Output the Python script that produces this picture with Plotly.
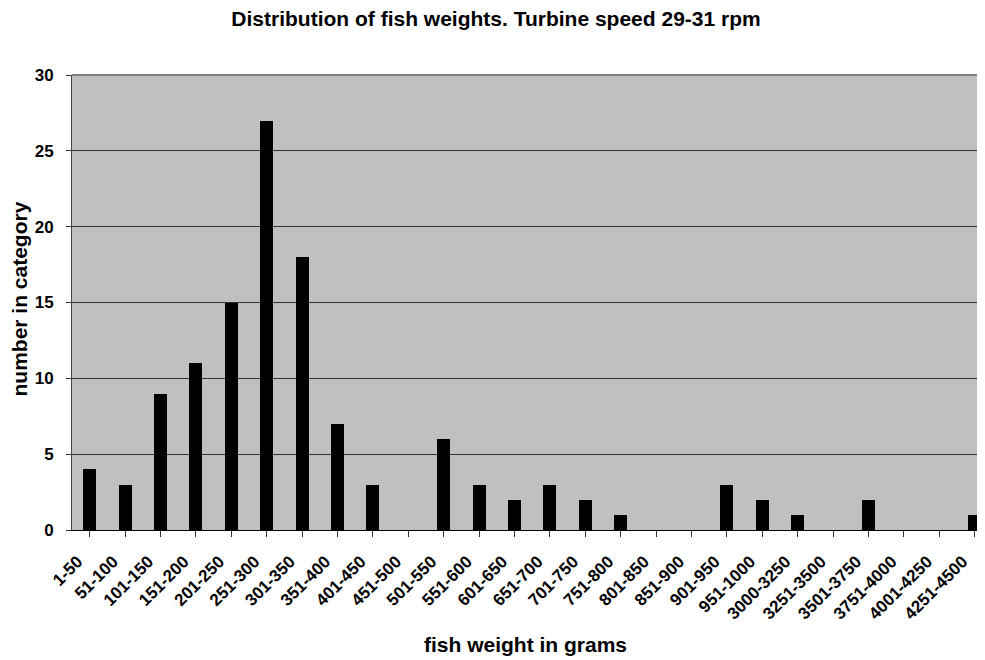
import plotly.graph_objects as go

categories = ["1-50", "51-100", "101-150", "151-200", "201-250", "251-300", "301-350",
              "351-400", "401-450", "451-500", "501-550", "551-600", "601-650", "651-700",
              "701-750", "751-800", "801-850", "851-900", "901-950", "951-1000",
              "3000-3250", "3251-3500", "3501-3750", "3751-4000", "4001-4250", "4251-4500"]
counts = [4, 3, 9, 11, 15, 27, 18, 7, 3, 0, 6, 3, 2, 3, 2, 1, 0, 0, 3, 2, 1, 0, 2, 0, 0, 1]
y_ticks = [0, 5, 10, 15, 20, 25, 30]

FONT = "Liberation Sans, Arial, sans-serif"

# The page body adds an 8px margin, so the figure is 977x652 to fill the 985x660 window.
W, H = 977, 652
L, T, B = 64, 67, 130
PH = H - T - B  # plot height
PW = W - L      # plot width

fig = go.Figure(go.Bar(
    x=list(range(len(categories))),
    y=counts,
    width=0.37,
    marker=dict(color="black", line=dict(width=0)),
))

fig.update_layout(
    width=W, height=H,
    margin=dict(l=L, r=0, t=T, b=B, autoexpand=False),
    paper_bgcolor="white",
    plot_bgcolor="#C0C0C0",
    showlegend=False,
    bargap=0,
    title=dict(text="<b>Distribution of fish weights. Turbine speed 29-31 rpm</b>",
               x=488 / W, xanchor="center", yref="container", y=1 - 10.5 / H, yanchor="middle",
               font=dict(family=FONT, size=21, color="black")),
    font=dict(family=FONT, color="black"),
)

fig.update_xaxes(
    tickmode="array",
    tickvals=list(range(len(categories))),
    ticktext=[f"<b>{c}</b>" for c in categories],
    tickangle=-45,
    tickfont=dict(family=FONT, size=17, color="black"),
    ticklabelshift=-12,
    ticklabelstandoff=8,
    range=[-0.5, 25.29],
    automargin=False,
    showgrid=False,
    zeroline=False,
    showline=True, linecolor="black", linewidth=1,
    ticks="outside", ticklen=6, tickcolor="#333333",
)

fig.update_yaxes(
    range=[0, 30],
    tickmode="array",
    tickvals=y_ticks,
    ticktext=[f"<b>{v}</b>" for v in y_ticks],
    tickfont=dict(family=FONT, size=17, color="black"),
    ticklabelstandoff=9,
    automargin=False,
    showgrid=True, gridcolor="#333333", gridwidth=1,
    zeroline=False,
    showline=True, linecolor="#444444", linewidth=1,
    ticks="outside", ticklen=5, tickcolor="#333333",
)

fig.add_annotation(text="<b>fish weight in grams</b>", xref="paper", yref="paper",
                   x=(517 - L) / PW, y=-(636 - (T + PH)) / PH, xanchor="center", yanchor="middle",
                   showarrow=False, font=dict(family=FONT, size=21, color="black"))
fig.add_annotation(text="<b>number in category</b>", xref="paper", yref="paper",
                   x=-(L - 10.5) / PW, y=((T + PH) - 291) / PH, xanchor="center", yanchor="middle",
                   textangle=-90,
                   showarrow=False, font=dict(family=FONT, size=21, color="black"))

# top border of plot area
fig.add_shape(type="line", xref="paper", yref="paper", x0=0, x1=1, y0=1, y1=1,
              line=dict(color="#808080", width=2))

fig.write_html("out.html")
